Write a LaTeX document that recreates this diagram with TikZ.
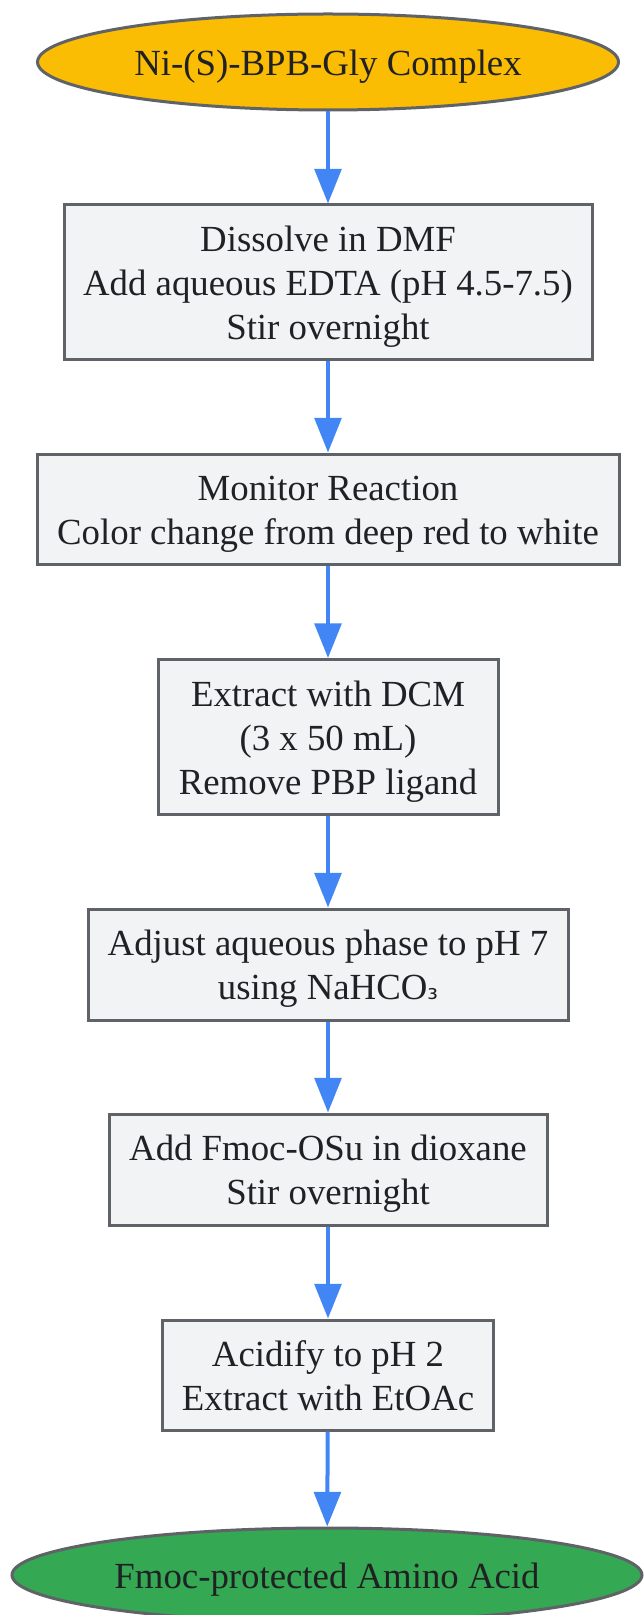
\documentclass[tikz,border=0pt]{standalone}
\usepackage{fontspec}
\setmainfont{Liberation Serif}
\newfontfamily\subfont{DejaVu Sans}
\usetikzlibrary{shapes.geometric,arrows.meta}
\definecolor{flowline}{HTML}{4285F4}
\definecolor{boxfill}{HTML}{F1F3F4}
\definecolor{boxedge}{HTML}{5F6368}
\definecolor{startfill}{HTML}{FBBC04}
\definecolor{endfill}{HTML}{34A853}
\definecolor{ink}{HTML}{202124}
\tikzset{
	textstrut/.style={execute at begin node={\rule{0pt}{26pt}}, execute at end node={\rule[-6pt]{0pt}{0pt}}},
	proc/.style={rectangle, draw=boxedge, fill=boxfill, line width=2.25pt, inner sep=0pt, align=flush center, text=ink, textstrut},
	term/.style={ellipse, draw=boxedge, line width=2.25pt, inner sep=0pt, align=center, text=ink, textstrut},
	flow/.style={draw=flowline, line width=3pt, -{Triangle[length=26pt, width=20pt]}}
}
\begin{document}
\begin{tikzpicture}[x=0.75pt, y=-0.75pt, font=\fontsize{27.6pt}{33pt}\selectfont]
		\useasboundingbox (0,0) rectangle (643,1615);
		\pgfmathsetmacro{\midx}{328}
		\node[term, fill=startfill, minimum width=435.75pt, minimum height=72pt] (start) at (\midx,62) {Ni-(S)-BPB-Gly Complex};
		\node[proc, text width=396pt, minimum height=116.25pt] (dissolve) at (\midx,282.5) {Dissolve in DMF\\Add aqueous EDTA (pH 4.5-7.5)\\Stir overnight};
		\node[proc, text width=436.5pt, minimum height=82.5pt] (monitor) at (\midx,509) {Monitor Reaction\\Color change from deep red to white};
		\node[proc, text width=255pt, minimum height=116.25pt] (extract) at (\midx,737) {Extract with DCM\\(3 x 50 mL)\\Remove PBP ligand};
		\node[proc, text width=360pt, minimum height=83.25pt] (adjust) at (\midx,964.5) {Adjust aqueous phase to pH 7\\using NaHCO{\subfont\fontsize{20pt}{24pt}\selectfont ₃}};
		\node[proc, text width=328.5pt, minimum height=83.25pt] (fmoc) at (\midx,1169.5) {Add Fmoc-OSu in dioxane\\Stir overnight};
		\node[proc, text width=248.25pt, minimum height=82.5pt] (acidify) at (\midx,1375) {Acidify to pH 2\\Extract with EtOAc};
		\node[term, fill=endfill, minimum width=472.5pt, minimum height=70.5pt] (product) at (327,1575) {Fmoc-protected Amino Acid};

		\foreach \a/\b in {start/dissolve, dissolve/monitor, monitor/extract, extract/adjust, adjust/fmoc, fmoc/acidify, acidify/product}
			\draw[flow] (\a) -- (\b);
	\end{tikzpicture}
\end{document}
